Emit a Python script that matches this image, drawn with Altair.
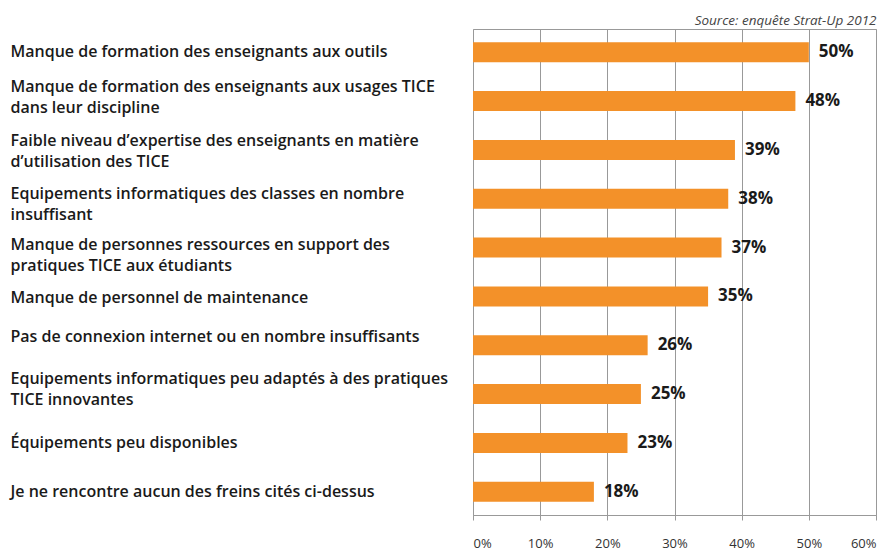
import altair as alt
import pandas as pd

categories = [
    "Manque de formation  des enseignants aux outils",
    "Manque de formation des enseignants aux usages TICE\ndans leur discipline",
    "Faible niveau d’expertise des enseignants en matière\nd’utilisation des TICE",
    "Equipements informatiques des classes en nombre\ninsuffisant",
    "Manque de personnes ressources en support des\npratiques TICE aux étudiants",
    "Manque de personnel de maintenance",
    "Pas de connexion internet ou en nombre insuffisants",
    "Equipements informatiques peu adaptés à des pratiques\nTICE innovantes",
    "Équipements peu disponibles",
    "Je ne rencontre aucun des freins cités ci-dessus",
]
values = [50, 48, 39, 38, 37, 35, 26, 25, 23, 18]
x_ticks = [0, 0.1, 0.2, 0.3, 0.4, 0.5, 0.6]
source_text = "Source: enquête Strat-Up 2012"

# label prefixes used to nudge the category labels like in the original layout
label_nudges = [
    ("Manque de formation des enseignants aux usages", -14),
    ("Faible niveau", -9),
    ("Equipements informatiques des", -5),
    ("Manque de personnes", -3),
    ("Manque de personnel de", 2),
    ("Pas de connexion", -8),
    ("Equipements informatiques peu", -15),
]

df = pd.DataFrame({
    "cat": categories,
    "val": [v / 100 for v in values],
    "lbl": [f"{v}%" for v in values],
})

FONT = "Open Sans"

offset_cond = {
    "condition": [
        {"test": f"indexof(datum.value, '{p}') === 0", "value": o}
        for p, o in label_nudges
    ],
    "value": 0,
}

y_enc = alt.Y(
    "cat:N",
    sort=categories,
    title=None,
    scale=alt.Scale(paddingInner=0.59, paddingOuter=0.27),
    axis=alt.Axis(
        labelAlign="left",
        labelPadding=463,
        labelLimit=600,
        labelFont=FONT,
        labelFontSize=16,
        labelFontWeight=600,
        labelColor="#1a1a1a",
        labelLineHeight=21,
        labelBaseline="middle",
        labelOffset=offset_cond,
        labelExpr="split(datum.label, '\\n')",
        ticks=False,
        domain=False,
        grid=False,
    ),
)

x_enc = alt.X(
    "val:Q",
    title=None,
    scale=alt.Scale(domain=[0, 0.6], nice=False),
    axis=alt.Axis(
        values=x_ticks,
        format=".0%",
        labelFont=FONT,
        labelFontSize=13,
        labelColor="#333333",
        labelPadding=17,
        tickSize=5,
        tickColor="#999999",
        domainColor="#999999",
        gridColor="#999999",
        grid=True,
        tickWidth=1,
    ),
)

bars = alt.Chart(df).mark_bar(color="#F39129").encode(x=x_enc, y=y_enc)

labels = alt.Chart(df).mark_text(
    align="left", baseline="middle", dx=10, font=FONT, fontSize=17,
    fontWeight="bold", color="#1a1a1a"
).encode(x="val:Q", y=alt.Y("cat:N", sort=categories), text="lbl:N")

chart = (bars + labels).properties(
    width=403,
    height=486,
    padding={"left": 2, "top": 5, "right": 5, "bottom": 5},
    title=alt.TitleParams(
        source_text, anchor="end", fontStyle="italic", fontWeight="normal",
        fontSize=13.5, font=FONT, color="#444444", offset=2,
    ),
).configure_view(stroke="#999999")

chart.save("out.html", embed_options={"renderer": "svg", "actions": False})
